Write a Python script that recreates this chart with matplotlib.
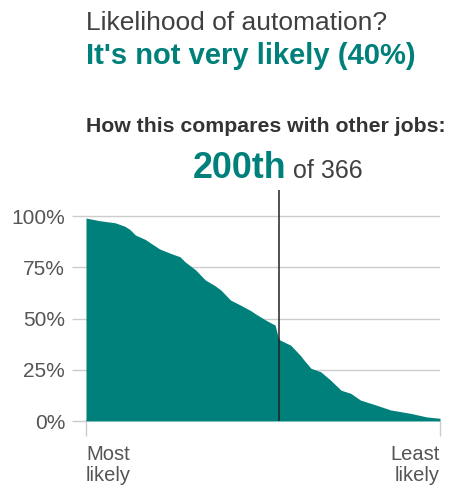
import matplotlib
matplotlib.use("Agg")
import matplotlib.pyplot as plt

# automation likelihood (%) by job rank
ranks = [1, 15, 31, 41, 46, 52, 62, 67, 77, 88, 98, 103, 114, 124, 134, 140,
         150, 160, 171, 176, 186, 191, 196, 199, 201, 212, 222, 227, 233, 243,
         253, 264, 274, 284, 300, 315, 336, 352, 366]
likelihood = [99, 97.7, 96.7, 95, 93.5, 90.7, 88.6, 87, 83.9, 81.8, 80.1, 77.7,
              73.7, 68.8, 66, 63.9, 59, 56.6, 53.8, 52.2, 49.3, 48, 46.8, 41,
              39.5, 37, 32, 29, 25.7, 24, 20, 15, 13.5, 10.2, 7.8, 5.4, 3.7,
              2, 1.3]
job_rank = 200
n_jobs = 366
yticks = [0, 25, 50, 75, 100]
ytick_labels = ["0%", "25%", "50%", "75%", "100%"]

teal = "#00807a"
dark = "#404040"
grid = "#cccccc"

plt.rcParams["font.family"] = ["Liberation Sans", "DejaVu Sans"]

W, H = 449, 490
fig = plt.figure(figsize=(W / 100, H / 100), dpi=100)

# axes: rank 1 at x=86px, rank 366 at x=440px; 0% at y=421px, 2.05px per %
top_px = 190
ax = fig.add_axes([86 / W, 1 - 421 / H, (440 - 86) / W, (421 - top_px) / H])
ax.set_xlim(1, n_jobs)
ax.set_ylim(0, (421 - top_px) / 2.05)

ax.fill_between(ranks, likelihood, 0, color=teal, lw=0, zorder=2)
ax.axvline(job_rank, color="#222222", lw=1.1, zorder=3)

ax.set_yticks(yticks)
ax.set_yticklabels(ytick_labels)
ax.yaxis.grid(True, color=grid, lw=1)
ax.set_axisbelow(True)
ax.tick_params(axis="y", length=10, width=1, color=grid, pad=5,
               labelsize=15, labelcolor="#555555")
zero_tick = ax.yaxis.get_major_ticks()[0]
zero_tick.tick1line.set_color("#888888")
ax.axhline(0, color="#888888", lw=1.2, zorder=1)

ax.set_xticks([1, n_jobs])
ax.set_xticklabels(["Most\nlikely", "Least\nlikely"])
ax.tick_params(axis="x", length=11, width=1, color=grid, pad=6,
               labelsize=14.5, labelcolor="#555555")
xl = ax.get_xticklabels()
xl[0].set_ha("left")
xl[1].set_ha("right")
xl[0].set_linespacing(1.15)
xl[1].set_linespacing(1.15)
xl[1].set_multialignment("right")

for s in ax.spines.values():
    s.set_visible(False)

fig.text(86 / W, 1 - 30 / H, "Likelihood of automation?", fontsize=19,
         color=dark, va="baseline")
fig.text(86 / W, 1 - 64 / H, "It's not very likely (40%)", fontsize=21,
         color=teal, fontweight="bold", va="baseline")
fig.text(86 / W, 1 - 132 / H, "How this compares with other jobs:",
         fontsize=15.3, color="#333333", fontweight="bold", va="baseline")
fig.text(193 / W, 1 - 178 / H, f"{job_rank}th", fontsize=25.8, color=teal,
         fontweight="bold", va="baseline")
fig.text(293 / W, 1 - 178 / H, f"of {n_jobs}", fontsize=18, color=dark,
         va="baseline")

fig.savefig("out.png", dpi=100)
